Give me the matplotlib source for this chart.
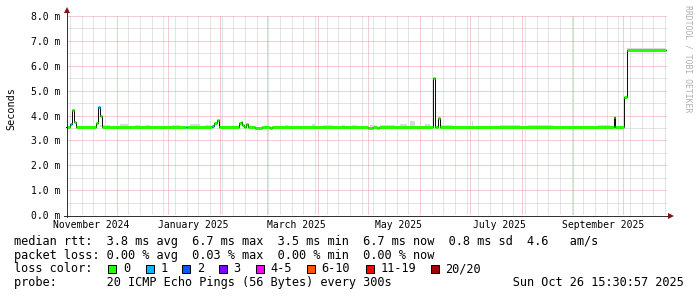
import matplotlib
matplotlib.use("Agg")
import matplotlib.pyplot as plt
import matplotlib.dates as mdates
from matplotlib.ticker import FixedLocator, MultipleLocator, NullFormatter
from matplotlib.patches import Rectangle
from matplotlib.transforms import blended_transform_factory
import pandas as pd

# ---------------- data ----------------
t_start = "2024-11-01 06:00"
t_end = "2025-10-27 06:00"
data_end = "2025-10-26 15:30"

median_times = [
    "2024-10-31 12:00", "2024-11-03 00:00", "2024-11-04 00:00", "2024-11-05 12:00",
    "2024-11-06 12:00", "2024-11-18 12:00", "2024-11-20 00:00", "2024-11-21 00:00",
    "2024-11-22 00:00", "2025-01-11 12:00", "2025-01-12 12:00", "2025-01-27 12:00",
    "2025-01-28 12:00", "2025-01-30 00:00", "2025-01-31 12:00", "2025-02-12 12:00",
    "2025-02-13 12:00", "2025-02-14 12:00", "2025-02-15 12:00", "2025-02-16 12:00",
    "2025-02-18 00:00", "2025-02-22 00:00", "2025-02-26 00:00", "2025-03-03 00:00",
    "2025-03-04 00:00", "2025-05-01 00:00", "2025-05-04 00:00", "2025-05-06 00:00",
    "2025-05-07 12:00", "2025-06-09 00:00", "2025-06-10 00:00", "2025-06-12 00:00",
    "2025-06-13 00:00", "2025-09-25 12:00", "2025-09-26 00:00", "2025-10-01 12:00",
    "2025-10-03 12:00",
]
median_values = [
    3.55, 3.65, 4.22, 3.75,
    3.55, 3.68, 4.35, 4.00,
    3.55, 3.55, 3.55, 3.57,
    3.70, 3.80, 3.55, 3.68,
    3.75, 3.60, 3.55, 3.65,
    3.55, 3.50, 3.55, 3.50,
    3.55, 3.50, 3.55, 3.50,
    3.55, 5.50, 3.55, 3.88,
    3.55, 3.95, 3.55, 4.75,
    6.65,
]
median_loss = [
    0, 1, 0, 0,
    0, 0, 1, 0,
    0, 1, 0, 1,
    0, 0, 0, 0,
    0, 0, 0, 0,
    0, 0, 0, 0,
    0, 0, 0, 0,
    0, 0, 0, 0,
    0, 0, 0, 0,
    0,
]

smoke_start = ["2024-11-21", "2024-12-03", "2024-12-12", "2024-12-18", "2025-01-03",
               "2025-01-14", "2025-01-23", "2025-03-12", "2025-03-28", "2025-04-04",
               "2025-04-15", "2025-04-21", "2025-05-02", "2025-05-08", "2025-05-20",
               "2025-05-26", "2025-06-04", "2025-06-13", "2025-07-02", "2025-07-19",
               "2025-08-05", "2025-09-16", "2025-10-03"]
smoke_end = ["2024-11-27", "2024-12-08", "2024-12-15", "2024-12-21", "2025-01-08",
             "2025-01-20", "2025-01-26", "2025-03-14", "2025-03-30", "2025-04-10",
             "2025-04-17", "2025-04-24", "2025-05-05", "2025-05-17", "2025-05-24",
             "2025-05-29", "2025-06-07", "2025-06-21", "2025-07-03", "2025-07-31",
             "2025-08-20", "2025-09-23", "2025-10-26"]
smoke_bottom = [3.52] * 22 + [6.62]
smoke_top = [3.61, 3.64, 3.62, 3.61, 3.63,
             3.65, 3.61, 3.63, 3.65, 3.61,
             3.63, 3.63, 3.61, 3.63, 3.64,
             3.78, 3.65, 3.63, 3.77, 3.61,
             3.63, 3.62, 6.73]

y_ticks = [0, 1, 2, 3, 4, 5, 6, 7, 8]
y_tick_labels = ["0.0 m", "1.0 m", "2.0 m", "3.0 m", "4.0 m", "5.0 m", "6.0 m", "7.0 m", "8.0 m"]
x_label_dates = ["2024-11-16", "2025-01-16", "2025-03-19", "2025-05-19", "2025-07-19", "2025-09-19"]
x_label_texts = ["November 2024", "January 2025", "March 2025", "May 2025", "July 2025", "September 2025"]

loss_labels = ["0", "1", "2", "3", "4-5", "6-10", "11-19", "20/20"]
loss_colors = ["#26ff00", "#00b8ff", "#0059ff", "#7e00ff", "#ff00ff", "#ff5500", "#ff0000", "#a10000"]

legend_rows = [
    "median rtt:  3.8 ms avg  6.7 ms max  3.5 ms min  6.7 ms now  0.8 ms sd  4.6   am/s",
    "packet loss: 0.00 % avg  0.03 % max  0.00 % min  0.00 % now",
    "loss color:",
    "probe:       20 ICMP Echo Pings (56 Bytes) every 300s                 Sun Oct 26 15:30:57 2025",
]

# ---------------- layout ----------------
W, H, DPI = 697, 297, 100
L, R, T, B = 67, 667, 16, 215
MONO = "DejaVu Sans Mono"
PX = 72.0 / DPI

fig = plt.figure(figsize=(W / DPI, H / DPI), dpi=DPI)
fig.patch.set_facecolor("white")

ax = fig.add_axes([L / W, 1 - B / H, (R - L) / W, (B - T) / H])
ax.set_facecolor("white")
x0 = mdates.date2num(pd.Timestamp(t_start))
x1 = mdates.date2num(pd.Timestamp(t_end))
ax.set_xlim(x0, x1)
ax.set_ylim(0, 8)
for s in ax.spines.values():
    s.set_visible(False)

ax.yaxis.set_major_locator(FixedLocator(y_ticks))
ax.set_yticklabels(y_tick_labels, fontfamily=MONO, fontsize=7.0)
ax.yaxis.set_minor_locator(MultipleLocator(0.5))
ax.xaxis.set_major_locator(mdates.MonthLocator())
ax.xaxis.set_minor_locator(mdates.WeekdayLocator(byweekday=mdates.SU))
ax.xaxis.set_major_formatter(NullFormatter())
ax.tick_params(which="both", length=0)
ax.tick_params(axis="y", pad=7 * PX)
ax.set_axisbelow(True)
ax.grid(which="minor", color="#c8c8c8", linestyle=(0, (1, 1)), linewidth=PX)
ax.grid(which="major", color="#e49c9c", linestyle=(0, (1, 1)), linewidth=PX)

# smoke
for s, e, b, t in zip(smoke_start, smoke_end, smoke_bottom, smoke_top):
    xs = [mdates.date2num(pd.Timestamp(s)), mdates.date2num(pd.Timestamp(e))]
    ax.fill_between(xs, [b, b], [t, t], color="#d8d8d8", linewidth=0, zorder=1)

# median
tt = [mdates.date2num(pd.Timestamp(t)) for t in median_times + [data_end]]
vv = median_values + [median_values[-1]]
ax.step(tt, vv, where="post", color="#101010", linewidth=1.0 * PX, zorder=2, clip_on=False)
for i, v in enumerate(median_values):
    ax.hlines(v, max(tt[i], x0), tt[i + 1], color=loss_colors[median_loss[i]],
              linewidth=3 * PX, zorder=3)

# x labels
trans = blended_transform_factory(ax.transData, ax.transAxes)
for d, lab in zip(x_label_dates, x_label_texts):
    ax.text(mdates.date2num(pd.Timestamp(d)), -9.5 / (B - T), lab, transform=trans,
            ha="center", va="center", fontfamily=MONO, fontsize=7.0, color="black")

# overlay in pixel coords
ov = fig.add_axes([0, 0, 1, 1], facecolor="none")
ov.set_xlim(0, W)
ov.set_ylim(H, 0)
ov.axis("off")

axis_col = "#3a3030"
ov.plot([64, 670], [B + 0.5, B + 0.5], color=axis_col, lw=PX, solid_capstyle="butt", antialiased=False)
ov.plot([L - 0.5, L - 0.5], [B + 2, 11], color=axis_col, lw=PX, solid_capstyle="butt", antialiased=False)
ov.plot([671], [B + 0.5], marker=">", color="#7f1515", markersize=4.5, markeredgewidth=0)
ov.plot([L - 0.5], [10], marker="^", color="#7f1515", markersize=4.5, markeredgewidth=0)

ov.text(11, 109, "Seconds", rotation=90, ha="center", va="center",
        fontfamily=MONO, fontsize=7.3, color="black")
ov.text(688, 5, "RRDTOOL / TOBI OETIKER", rotation=270, ha="center", va="top",
        fontfamily=MONO, fontsize=5.9, color="#b0b0b0")

baselines = [245, 258.5, 272.5, 286]
for txt, yb in zip(legend_rows, baselines):
    ov.text(14.4, yb, txt, ha="left", va="baseline", fontfamily=MONO,
            fontsize=8.55, color="black")

box_x = [108.3, 145.7, 182.3, 219.0, 255.7, 306.7, 365.7, 430.7]
for bx, c, lab in zip(box_x, loss_colors, loss_labels):
    ov.add_patch(Rectangle((bx, 265), 8, 8, facecolor=c, edgecolor="black", lw=PX))
    ov.text(bx + 14.5, 272.5, lab, ha="left", va="baseline", fontfamily=MONO,
            fontsize=8.55, color="black")

fig.savefig("out.png", dpi=DPI, facecolor="white")
